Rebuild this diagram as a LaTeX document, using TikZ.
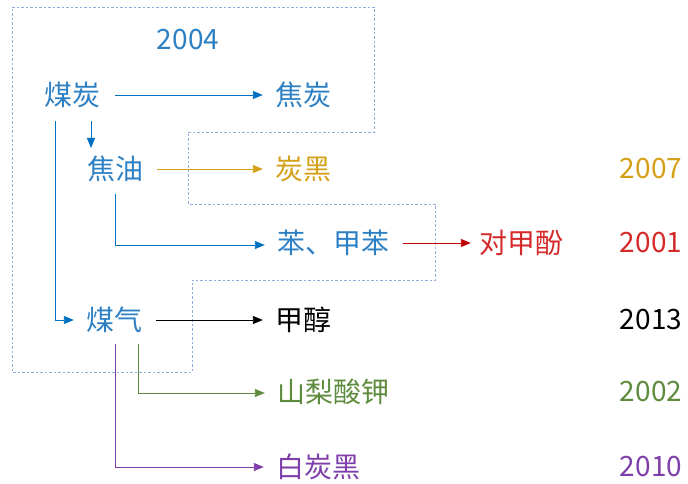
\documentclass[tikz,border=0pt]{standalone}
\usepackage{fontspec}
\setmainfont{Noto Sans CJK SC}
\usetikzlibrary{arrows.meta}
\definecolor{cblue}{HTML}{2E80C4}
\definecolor{lblue}{HTML}{0070C0}
\definecolor{cgold}{HTML}{D4A017}
\definecolor{cred}{HTML}{D42A2A}
\definecolor{lred}{HTML}{C00000}
\definecolor{cgreen}{HTML}{5E8C3E}
\definecolor{cpurple}{HTML}{7E3FAA}
\definecolor{dashc}{HTML}{8FAADC}
\tikzset{
  lbl/.style={font=\fontsize{28}{32}\selectfont, inner sep=0pt, anchor=center},
  conn/.style={line width=0.9pt, -{Triangle[length=10pt,width=8pt]}},
}
\begin{document}
\begin{tikzpicture}[x=1pt,y=-1pt]
\useasboundingbox (0,0) rectangle (688,484);
% dashed boundary
\draw[dashc, line width=0.9pt, dash pattern=on 2.5pt off 2pt]
  (12,7) -- (374,7) -- (374,132) -- (188,132) -- (188,204) -- (435,204)
  -- (435,280) -- (192,280) -- (192,372) -- (12,372) -- cycle;
% nodes
\node[lbl, text=cblue] (y2004) at (188,40) {2004};
\node[lbl, text=cblue] (meitan) at (72,95) {煤炭};
\node[lbl, text=cblue] (jiaotan) at (303,95) {焦炭};
\node[lbl, text=cblue] (jiaoyou) at (115,169) {焦油};
\node[lbl, text=cgold] (tanhei) at (303,169) {炭黑};
\node[lbl, text=cblue] (ben) at (333,243) {苯、甲苯};
\node[lbl, text=cred] (duijiafen) at (521,243) {对甲酚};
\node[lbl, text=cblue] (meiqi) at (114,320) {煤气};
\node[lbl, text=black] (jiachun) at (303,320) {甲醇};
\node[lbl, text=cgreen] (shanli) at (333,392) {山梨酸钾};
\node[lbl, text=cpurple] (baitanhei) at (318,467) {白炭黑};
\node[lbl, text=cgold] (y2007) at (651,169) {2007};
\node[lbl, text=cred] (y2001) at (651,243) {2001};
\node[lbl, text=black] (y2013) at (651,320) {2013};
\node[lbl, text=cgreen] (y2002) at (651,392) {2002};
\node[lbl, text=cpurple] (y2010) at (651,467) {2010};
% helper coordinates
\coordinate (a1) at (91,121);
\coordinate (a2) at (91,148);
\coordinate (b1) at (55,121);
\coordinate (b2) at (55,320);
\coordinate (c1) at (115,194);
\coordinate (c2) at (115,245);
\coordinate (g1) at (138,344);
\coordinate (g2) at (138,393);
\coordinate (p1) at (115,344);
\coordinate (p2) at (115,467);
% connectors
\draw[conn, lblue] (meitan.east) ++(15,0) -- ([xshift=-12pt]jiaotan.west);
\draw[conn, lblue] (a1) -- (a2);
\draw[conn, cgold] ([xshift=14pt]jiaoyou.east) -- ([xshift=-12pt]tanhei.west);
\draw[conn, lblue] (c1) -- (c2) -- ([xshift=-12pt]ben.west |- c2);
\draw[conn, lred] ([xshift=14pt]ben.east |- duijiafen) -- ([xshift=-8pt]duijiafen.west);
\draw[conn, lblue] (b1) -- (b2) -- ([xshift=-12pt]meiqi.west);
\draw[conn, black] ([xshift=14pt]meiqi.east) -- ([xshift=-12pt]jiachun.west);
\draw[conn, cgreen] (g1) -- (g2) -- ([xshift=-12pt]shanli.west |- g2);
\draw[conn, cpurple] (p1) -- (p2) -- ([xshift=-12pt]baitanhei.west |- p2);
\end{tikzpicture}
\end{document}
